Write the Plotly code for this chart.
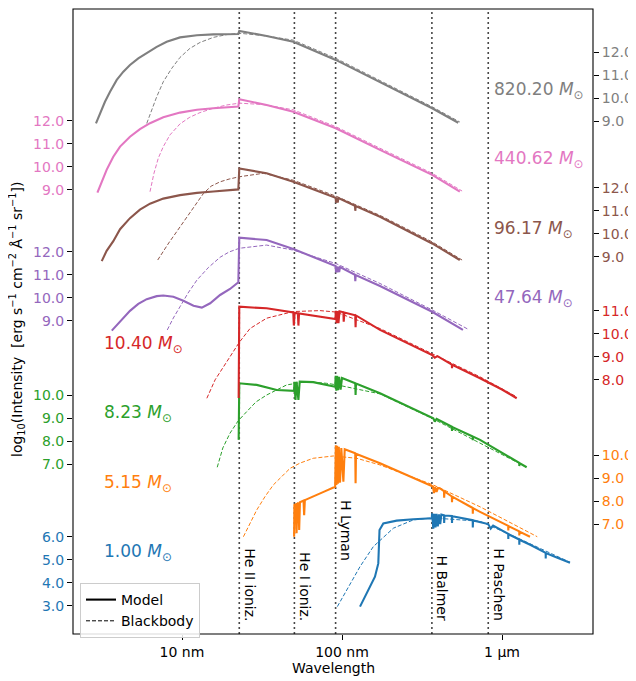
import numpy as np
import plotly.graph_objects as go

FONT = "DejaVu Sans"

# ---------------- data (wavelength in nm, log10 intensity) ----------------
mass_labels = ["1.00", "5.15", "8.23", "10.40", "47.64", "96.17", "440.62", "820.20"]
series_colors = ["#1f77b4", "#ff7f0e", "#2ca02c", "#d62728",
                 "#9467bd", "#8c564b", "#e377c2", "#7f7f7f"]

edge_wavelengths = [22.8, 50.4, 91.2, 364.6, 820.4]
edge_names = ["He II ioniz.", "He I ioniz.", "H Lyman", "H Balmer", "H Paschen"]

x_tick_values = [10, 100, 1000]
x_tick_labels = ["10 nm", "100 nm", "1 µm"]

yticks_m1 = [3.0, 4.0, 5.0, 6.0]
yticks_m5 = [7.0, 8.0, 9.0, 10.0]
yticks_m8 = [7.0, 8.0, 9.0, 10.0]
yticks_m10 = [8.0, 9.0, 10.0, 11.0]
yticks_m47 = [9.0, 10.0, 11.0, 12.0]
yticks_m96 = [9.0, 10.0, 11.0, 12.0]
yticks_m440 = [9.0, 10.0, 11.0, 12.0]
yticks_m820 = [9.0, 10.0, 11.0, 12.0]

model_m1 = [(129.6, 2.96), (142.6, 3.54), (160.7, 4.26), (168.6, 4.84), (171.6, 6.29),
            (181.2, 6.58), (219.6, 6.70), (279, 6.76), (364, 6.80), (366, 7.02),
            (372, 6.35), (378, 7.00), (384, 6.40), (390, 6.99), (397, 6.45), (404, 6.97),
            (411, 6.55), (418, 6.96), (434, 6.93), (435, 6.60), (437, 6.92),
            (486, 6.90), (487, 6.60), (489, 6.89), (656, 6.72), (657, 6.40), (659, 6.71),
            (820, 6.55), (850, 6.35), (880, 6.48), (1000, 6.25), (1094, 6.12), (1095, 5.90),
            (1097, 6.11), (1282, 5.88), (1283, 5.65), (1285, 5.87), (1500, 5.65),
            (1875, 5.30), (1876, 5.05), (1878, 5.29), (2200, 5.10), (2661, 4.87)]
bb_m1 = [(93.5, 2.96), (107, 3.68), (129.6, 4.70), (157, 5.57), (209.4, 6.37),
         (279, 6.73), (364, 6.82), (729, 6.67), (1177, 6.03), (2661, 4.89)]

model_m5 = [(50.2, 6.45), (50.4, 7.83), (51.5, 7.86), (52.0, 6.60), (52.6, 7.88),
            (53.4, 7.92), (54.0, 6.74), (54.6, 7.95), (57.5, 8.02), (58.0, 7.39),
            (58.6, 8.04), (66.1, 8.19), (78, 8.42), (90.6, 8.62), (91.5, 10.43),
            (92.3, 8.70), (93.2, 10.40), (94.2, 8.75), (95.5, 10.36), (97.2, 8.80),
            (99, 10.30), (102, 8.84), (104, 10.25), (121, 10.08), (121.6, 8.77),
            (122.3, 10.06), (172.8, 9.64), (250, 9.15), (364.6, 8.65), (370, 8.63),
            (376, 8.35), (382, 8.61), (390, 8.40), (398, 8.57), (410, 8.55),
            (434, 8.43), (435, 8.15), (437, 8.42), (486, 8.20), (487, 7.95), (489, 8.19),
            (656, 7.70), (657, 7.45), (659, 7.69), (729, 7.53), (1000, 7.06),
            (1094, 6.92), (1095, 6.72), (1097, 6.91), (1282, 6.68), (1283, 6.50),
            (1285, 6.67), (1496, 6.45)]
bb_m5 = [(24.2, 6.45), (29.3, 7.61), (33.0, 8.19), (37.2, 8.70), (47.3, 9.42),
         (54.6, 9.65), (66.1, 9.86), (88.2, 9.96), (123.6, 9.86), (172.8, 9.57),
         (372, 8.70), (729, 7.75), (1660, 6.45)]

model_m8 = [(22.6, 8.06), (22.8, 10.52), (29.3, 10.45), (39.1, 10.23), (50.2, 10.19),
            (50.4, 10.59), (51.2, 9.80), (52.0, 10.59), (53.4, 9.80), (54.4, 10.59),
            (66.1, 10.57), (90.6, 10.37), (91.3, 10.85), (92.2, 10.20), (93.2, 10.84),
            (94.5, 10.22), (96, 10.80), (98, 10.25), (100, 10.75), (121, 10.52),
            (121.6, 10.01), (122.3, 10.51), (172.8, 10.09), (372, 9.00), (380, 8.85),
            (390, 8.97), (486, 8.63), (487, 8.45), (489, 8.62), (656, 8.21), (657, 8.05),
            (659, 8.20), (729, 8.06), (1000, 7.50), (1282, 7.06), (1283, 6.92),
            (1285, 7.05), (1426, 6.87)]
bb_m8 = [(16.6, 6.87), (18.0, 7.71), (19.95, 8.35), (22.4, 8.88), (25.4, 9.29),
         (29.0, 9.71), (33.8, 10.01), (45.1, 10.45), (60.1, 10.59), (80.1, 10.52),
         (93.2, 10.45), (172.8, 10.06), (372, 8.97), (1426, 6.87)]

model_m10 = [(22.6, 7.20), (22.8, 11.17), (33.8, 11.10), (49.6, 10.92), (50.0, 10.35),
             (50.6, 10.91), (53.0, 10.88), (53.4, 10.35), (53.9, 10.88), (72.9, 10.75),
             (91.0, 10.63), (91.5, 10.99), (92.5, 10.45), (93.5, 10.98), (95, 10.45),
             (96.5, 10.97), (102, 10.93), (102.5, 10.52), (103.5, 10.92), (121, 10.80),
             (121.6, 10.28), (122.3, 10.79), (172.8, 10.16), (366, 9.07), (380, 8.95),
             (395, 9.02), (486, 8.65), (487, 8.50), (489, 8.64), (729, 8.06),
             (1000, 7.57), (1236, 7.19)]
bb_m10 = [(14.3, 7.19), (16.1, 7.99), (22.8, 9.62), (26.6, 10.22), (33.8, 10.67),
          (49.6, 10.96), (72.9, 11.00), (91.4, 10.94), (172.8, 10.22), (366, 9.12),
          (729, 8.12), (1236, 7.25)]

model_m47 = [(3.64, 8.57), (3.91, 8.81), (4.30, 9.15), (4.73, 9.43), (5.33, 9.73),
             (6.02, 9.94), (6.95, 10.07), (7.64, 10.10), (8.83, 10.04), (10.2, 9.87),
             (11.8, 9.65), (13.3, 9.57), (15.0, 9.76), (17.3, 10.12), (19.95, 10.38),
             (22.5, 10.67), (22.8, 12.61), (33.8, 12.51), (49.6, 12.12), (91.2, 11.38),
             (91.8, 11.10), (92.6, 11.36), (93.6, 11.10), (94.6, 11.35), (96, 11.12),
             (97.2, 11.33), (120.5, 11.00), (121.1, 10.72), (121.8, 10.99), (172.8, 10.51),
             (366, 9.39), (570, 8.60)]
bb_m47 = [(8.09, 8.60), (8.83, 9.12), (9.72, 9.61), (10.9, 10.20), (12.4, 10.77),
          (14.6, 11.31), (17.3, 11.76), (19.7, 11.99), (22.8, 12.15), (33.8, 12.29),
          (49.6, 12.07), (91.4, 11.49), (172.8, 10.62), (366, 9.47), (614, 8.63)]

model_m96 = [(3.15, 8.81), (3.38, 9.26), (3.72, 9.68), (4.10, 10.20), (4.73, 10.68),
             (5.46, 11.05), (6.31, 11.31), (7.64, 11.53), (9.72, 11.68), (12.4, 11.78),
             (15.7, 11.84), (22.5, 11.93), (22.8, 12.84), (33.8, 12.63), (49.6, 12.26),
             (91.2, 11.57), (91.8, 11.35), (92.8, 11.56), (94, 11.36), (95, 11.55),
             (120.5, 11.22), (121.1, 11.00), (121.8, 11.21), (172.8, 10.74), (366, 9.58),
             (545, 8.86)]
bb_m96 = [(7.05, 8.86), (8.26, 9.60), (9.72, 10.30), (11.5, 11.04), (13.6, 11.75),
          (15.2, 12.07), (17.3, 12.26), (19.7, 12.38), (22.8, 12.48), (32.2, 12.63),
          (49.6, 12.33), (91.4, 11.64), (172.8, 10.80), (366, 9.65), (563, 8.86)]

model_m440 = [(2.96, 8.87), (3.15, 9.35), (3.38, 9.86), (3.72, 10.43), (4.10, 10.87),
              (4.73, 11.30), (5.46, 11.63), (6.31, 11.89), (7.64, 12.15), (9.72, 12.35),
              (12.4, 12.47), (15.7, 12.54), (22.5, 12.61), (22.8, 12.93), (33.8, 12.68),
              (49.6, 12.39), (91.4, 11.67), (172.8, 10.73), (366, 9.64), (545, 8.91)]
bb_m440 = [(6.31, 8.91), (6.68, 9.71), (7.11, 10.37), (7.64, 10.87), (8.41, 11.38),
           (9.72, 11.86), (11.2, 12.15), (12.96, 12.35), (15.7, 12.54), (19.0, 12.68),
           (22.8, 12.76), (32.2, 12.70), (49.6, 12.47), (91.4, 11.74), (172.8, 10.80),
           (366, 9.71), (563, 8.94)]

model_m820 = [(2.90, 8.91), (3.07, 9.35), (3.30, 9.85), (3.55, 10.29), (3.91, 10.80),
              (4.30, 11.16), (4.73, 11.45), (5.33, 11.74), (6.02, 11.98), (6.95, 12.24),
              (8.02, 12.46), (9.72, 12.65), (12.4, 12.74), (15.7, 12.78), (22.5, 12.80),
              (22.8, 12.93), (33.8, 12.71), (49.6, 12.46), (91.4, 11.67), (172.8, 10.72),
              (366, 9.57), (533, 8.94)]
bb_m820 = [(6.02, 8.91), (6.47, 9.49), (6.95, 10.07), (7.64, 10.72), (8.62, 11.30),
           (9.72, 11.78), (11.2, 12.17), (12.96, 12.43), (15.7, 12.65), (19.0, 12.77),
           (22.8, 12.83), (32.2, 12.73), (49.6, 12.53), (91.4, 11.74), (172.8, 10.78),
           (366, 9.63), (545, 8.97)]

models = [model_m1, model_m5, model_m8, model_m10, model_m47, model_m96, model_m440, model_m820]
blackbodies = [bb_m1, bb_m5, bb_m8, bb_m10, bb_m47, bb_m96, bb_m440, bb_m820]
yticks = [yticks_m1, yticks_m5, yticks_m8, yticks_m10, yticks_m47, yticks_m96, yticks_m440, yticks_m820]

# ---------------- layout configuration ----------------
# The page adds an 8 px body margin, so the figure is drawn 8 px smaller.
PAGE = 8
W, H = 636 - PAGE, 681 - PAGE
L, R, T, B = 65, 43, 1, 47
PX_PER_DEX = 23.0
plot_w = W - L - R
plot_h = H - T - B
span = plot_h / PX_PER_DEX
SCREEN_BOTTOM = H - B + PAGE          # screen y of the x-axis line
SCREEN_LEFT = L + PAGE
axis_sides = ["left", "right", "left", "right", "left", "right", "left", "right"]
axis_bottoms = [1.77, 2.22, -0.38, -3.06, -4.62, -7.40, -10.32, -13.29]
x_range_log = [0.31875, 3.56875]
label_x_log = [0.5, 0.5, 0.5, 0.5, 2.9375, 2.9375, 2.9375, 2.9375]
label_y_px = [552, 483, 413.5, 344, 298.7, 229, 159.7, 91]


def py(screen_y):
    return (SCREEN_BOTTOM - screen_y) / plot_h


def px(screen_x):
    return (screen_x - SCREEN_LEFT) / plot_w


fig = go.Figure()


def yid(i):
    return "y" if i == 0 else f"y{i + 1}"


# edge lines
for w in edge_wavelengths:
    fig.add_trace(go.Scatter(x=[w, w], y=[axis_bottoms[0], axis_bottoms[0] + span],
                             mode="lines", yaxis="y", showlegend=False, hoverinfo="skip",
                             line=dict(color="rgba(40,40,40,0.85)", width=1.6, dash="2px,3px")))

for i in range(8):
    mw, mv = zip(*models[i])
    bw, bv = zip(*blackbodies[i])
    fig.add_trace(go.Scatter(x=list(mw), y=list(mv), mode="lines", yaxis=yid(i),
                             showlegend=False,
                             line=dict(color=series_colors[i], width=2.1)))
    fig.add_trace(go.Scatter(x=list(bw), y=list(bv), mode="lines", yaxis=yid(i),
                             showlegend=False,
                             line=dict(color=series_colors[i], width=1, dash="4px,2px")))

# legend entries
fig.add_trace(go.Scatter(x=[None], y=[None], mode="lines", name="Model",
                         line=dict(color="black", width=2.1)))
fig.add_trace(go.Scatter(x=[None], y=[None], mode="lines", name="Blackbody",
                         line=dict(color="black", width=1, dash="4px,2px")))

layout = dict(
    width=W, height=H,
    margin=dict(l=L, r=R, t=T, b=B, autoexpand=False),
    paper_bgcolor="white", plot_bgcolor="white",
    font=dict(family=FONT, size=14, color="black"),
    showlegend=True,
    legend=dict(x=px(80), y=py(583), xanchor="left", yanchor="top",
                bgcolor="rgba(255,255,255,0.85)", bordercolor="#cccccc", borderwidth=1,
                font=dict(family=FONT, size=14), tracegroupgap=0),
    xaxis=dict(type="log", range=x_range_log, tickvals=x_tick_values, ticktext=x_tick_labels,
               ticks="outside", ticklen=5, tickcolor="black", showgrid=False, zeroline=False,
               showline=False, tickfont=dict(size=14, color="black")),
)
for i in range(8):
    key = "yaxis" if i == 0 else f"yaxis{i + 1}"
    ax = dict(range=[axis_bottoms[i], axis_bottoms[i] + span],
              side=axis_sides[i], anchor="x",
              tickvals=yticks[i], ticktext=[f"{v:.1f}" for v in yticks[i]],
              ticks="outside", ticklen=5, tickcolor="black",
              tickfont=dict(size=14, color=series_colors[i]),
              showgrid=False, zeroline=False, showline=False)
    if i > 0:
        ax["overlaying"] = "y"
    layout[key] = ax

annotations = []
for i in range(8):
    annotations.append(dict(
        x=label_x_log[i], xref="x", y=py(label_y_px[i]), yref="paper",
        text=f"{mass_labels[i]} <i>M</i><sub>⊙</sub>", showarrow=False,
        xanchor="left", yanchor="middle",
        font=dict(family=FONT, size=17, color=series_colors[i])))

edge_label_bottom_px = [623, 623, 563, 623, 623]
for w, name, yb in zip(edge_wavelengths, edge_names, edge_label_bottom_px):
    annotations.append(dict(
        x=np.log10(w), xref="x", y=py(yb), yref="paper",
        text=name, showarrow=False, textangle=90, xanchor="left", yanchor="bottom",
        xshift=1, font=dict(family=FONT, size=14, color="black")))

annotations.append(dict(
    x=px(17), xref="paper", y=py(320), yref="paper",
    text="log<sub>10</sub>(Intensity\u00a0 [erg s<sup>−1</sup> cm<sup>−2</sup> Å<sup>−1</sup> sr<sup>−1</sup>])",
    showarrow=False, textangle=-90, xanchor="center", yanchor="middle",
    font=dict(family=FONT, size=14, color="black")))
annotations.append(dict(
    x=px(333), xref="paper", y=py(668), yref="paper",
    text="Wavelength", showarrow=False, xanchor="center", yanchor="middle",
    font=dict(family=FONT, size=14, color="black")))
layout["annotations"] = annotations
layout["shapes"] = [dict(type="rect", xref="paper", yref="paper", x0=0, x1=1, y0=0, y1=1,
                         line=dict(color="black", width=1.1), layer="above")]

fig.update_layout(**layout)
fig.write_html("out.html")
